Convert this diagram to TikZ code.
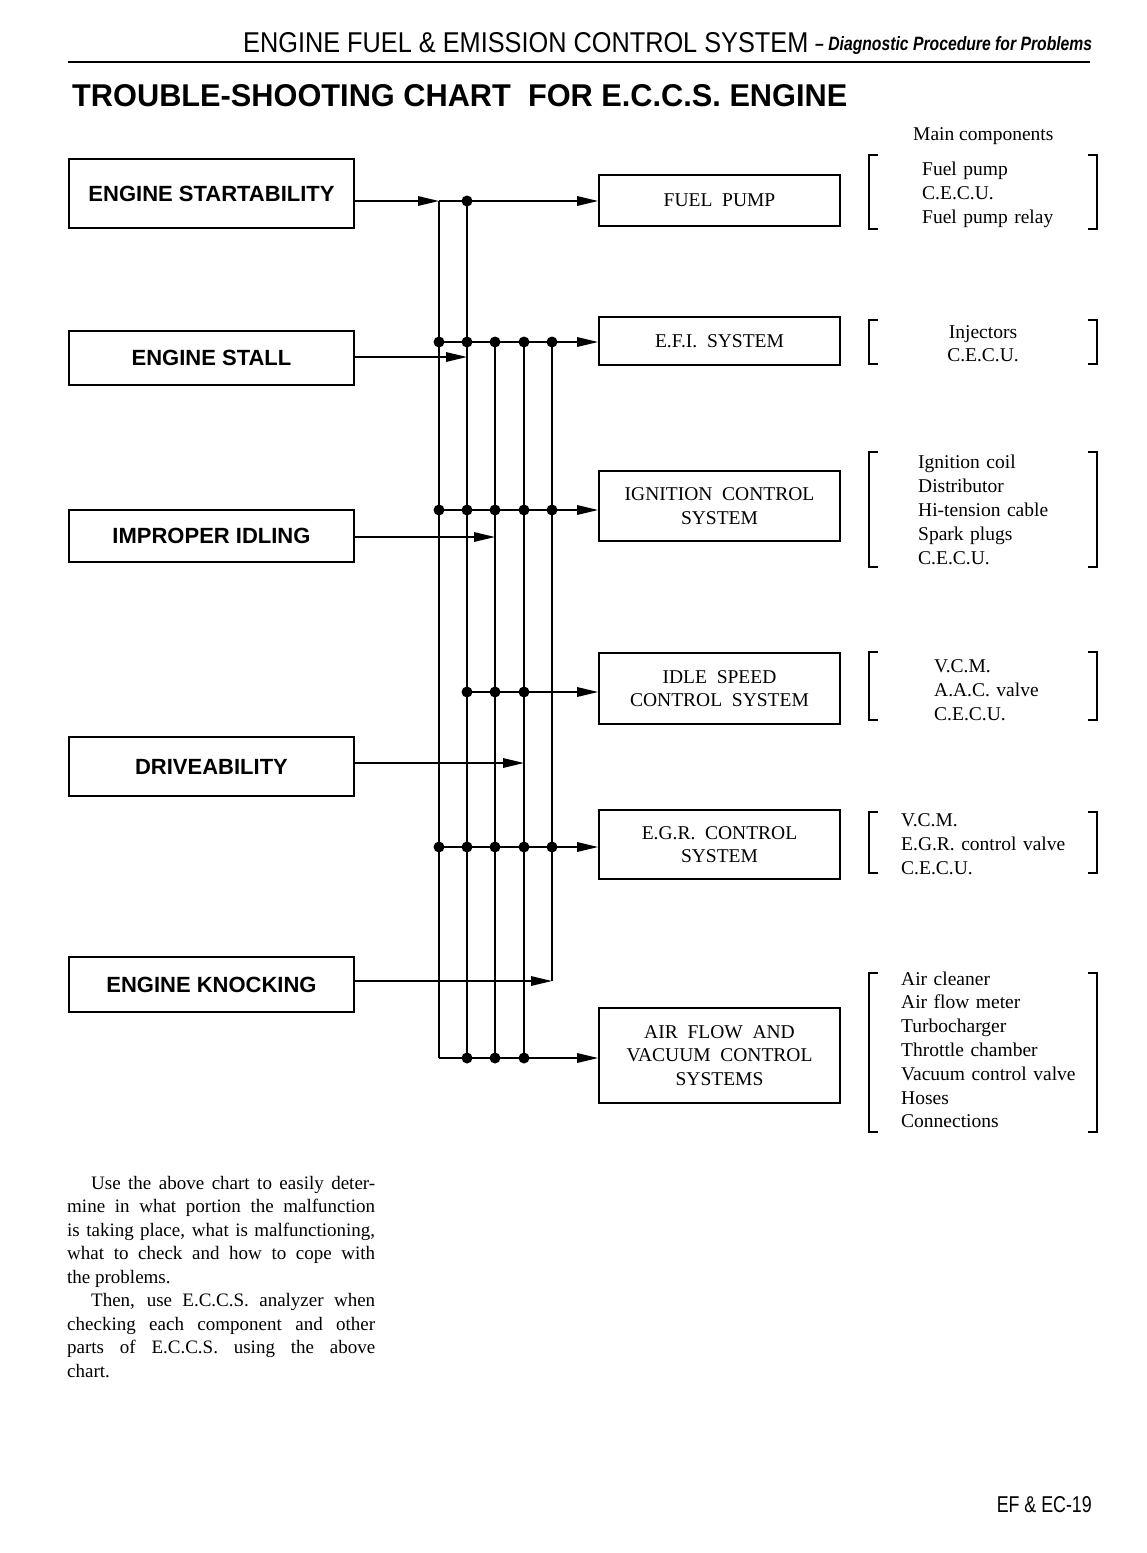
\documentclass[tikz,border=0pt]{standalone}
\usepackage{fontspec}
\usepackage{graphicx}
\setmainfont{Liberation Serif}
\setsansfont{Liberation Sans}
\usetikzlibrary{arrows.meta}
\newcommand\mybrackets[2]{%
  \draw[brk] (878,#1) -- (869,#1) -- (869,#2) -- (878,#2);
  \draw[brk] (1088,#1) -- (1097,#1) -- (1097,#2) -- (1088,#2);}
\begin{document}
\begin{tikzpicture}[x=1pt,y=-1pt,
  sympt/.style={draw, line width=1.7pt, minimum width=285pt, minimum height=#1,
    inner sep=0pt, font=\sffamily\bfseries\fontsize{22}{26}\selectfont},
  sysbox/.style={draw, line width=1.7pt, minimum width=241pt, minimum height=#1,
    inner sep=0pt, align=center, font=\fontsize{19.5}{23.5}\selectfont},
  conn/.style={line width=1.6pt},
  arr/.style={-{Triangle[length=21pt,width=9.5pt]}},
  jdot/.style={circle, fill, inner sep=0pt, minimum size=11pt},
  complist/.style={anchor=base west, inner sep=0pt, text width=190pt, align=left,
    font=\fontsize{19.5}{24}\selectfont},
  brk/.style={line width=1.3pt},
  plain/.style={inner sep=0pt}]
\useasboundingbox (0,0) rectangle (1147,1553);

% header
\node[plain, anchor=base west] (hdr) at (243,52)
  {\resizebox{565pt}{20pt}{\sffamily ENGINE FUEL \& EMISSION CONTROL SYSTEM}};
\node[plain, anchor=base west] (hdrsub) at (815,50)
  {\resizebox{277pt}{14pt}{\sffamily\bfseries\itshape -- Diagnostic Procedure for Problems}};
\draw[line width=2.5pt] (68,62) -- (1090,62);
\node[plain, anchor=base west] (title) at (72,106)
  {\resizebox{775pt}{22pt}{\sffamily\bfseries TROUBLE-SHOOTING CHART\ \ FOR E.C.C.S. ENGINE}};

% symptom boxes
\node[sympt=69pt]  (start)  at (211.5,193.5) {ENGINE STARTABILITY};
\node[sympt=54pt]  (stall)  at (211.5,358)   {ENGINE STALL};
\node[sympt=52pt]  (idling) at (211.5,536)   {IMPROPER IDLING};
\node[sympt=59pt]  (drive)  at (211.5,766.5) {DRIVEABILITY};
\node[sympt=55pt]  (knock)  at (211.5,984.5) {ENGINE KNOCKING};

% system boxes
\node[sysbox=51pt] (fp)  at (719.5,200.5)  {FUEL\ \ PUMP};
\node[sysbox=48pt] (efi) at (719.5,341)    {E.F.I.\ \ SYSTEM};
\node[sysbox=70pt] (ign) at (719.5,506)    {IGNITION\ \ CONTROL\\SYSTEM};
\node[sysbox=71pt] (isc) at (719.5,688.5)  {IDLE\ \ SPEED\\CONTROL\ \ SYSTEM};
\node[sysbox=69pt] (egr) at (719.5,844.5)  {E.G.R.\ \ CONTROL\\SYSTEM};
\node[sysbox=95pt] (air) at (719.5,1055.5) {AIR\ \ FLOW\ \ AND\\VACUUM\ \ CONTROL\\SYSTEMS};

% bus coordinates
\coordinate (in1) at (439,201);
\coordinate (in2) at (467,357);
\coordinate (in3) at (495,537);
\coordinate (in4) at (524,763);
\coordinate (in5) at (552,981);
\coordinate (rfp)  at (439,201);
\coordinate (refi) at (439,342);
\coordinate (rign) at (439,510);
\coordinate (risc) at (467,692);
\coordinate (regr) at (439,847);
\coordinate (rair) at (439,1058);

% vertical bus lines
\draw[conn] (in1) -- (439,1058);
\draw[conn] (467,201) -- (467,1058);
\draw[conn] (495,342) -- (495,1058);
\draw[conn] (524,342) -- (524,1058);
\draw[conn] (552,342) -- (in5);

% symptom inputs
\draw[conn,arr] (start.east |- in1) -- (in1);
\draw[conn,arr] (stall.east |- in2) -- (in2);
\draw[conn,arr] (idling.east |- in3) -- (in3);
\draw[conn,arr] (drive.east |- in4) -- (in4);
\draw[conn,arr] (knock.east |- in5) -- (in5);

% system outputs
\draw[conn,arr] (rfp) -- (fp.west |- rfp);
\draw[conn,arr] (refi) -- (efi.west |- refi);
\draw[conn,arr] (rign) -- (ign.west |- rign);
\draw[conn,arr] (risc) -- (isc.west |- risc);
\draw[conn,arr] (regr) -- (egr.west |- regr);
\draw[conn,arr] (rair) -- (air.west |- rair);

% junction dots
\node[jdot] (dfp2) at (467,201) {};
\foreach \x [count=\i] in {439,467,495,524,552} {
  \node[jdot] (defi\i) at (\x,342) {};
  \node[jdot] (dign\i) at (\x,510) {};
  \node[jdot] (degr\i) at (\x,847) {};
}
\foreach \x [count=\i] in {467,495,524} {
  \node[jdot] (disc\i) at (\x,692) {};
  \node[jdot] (dair\i) at (\x,1058) {};
}

% main components
\node[plain, anchor=base west] (mainc) at (913,140)
  {\fontsize{19.5}{24}\selectfont Main components};

\mybrackets{155}{229}
\node[complist] (l1) at (922,175) {Fuel pump\\C.E.C.U.\\Fuel pump relay};

\mybrackets{320}{364}
\node[plain, anchor=base, text width=150pt, align=center,
  font=\fontsize{19.5}{23}\selectfont] (l2) at (983,338) {Injectors\\C.E.C.U.};

\mybrackets{452}{567}
\node[complist] (l3) at (918,468)
  {Ignition coil\\Distributor\\Hi-tension cable\\Spark plugs\\C.E.C.U.};

\mybrackets{652}{720}
\node[complist] (l4) at (934,672) {V.C.M.\\A.A.C. valve\\C.E.C.U.};

\mybrackets{812}{873}
\node[complist] (l5) at (901,826) {V.C.M.\\E.G.R. control valve\\C.E.C.U.};

\mybrackets{973}{1132}
\node[complist, font=\fontsize{19.5}{23.8}\selectfont] (l6) at (901,985)
  {Air cleaner\\Air flow meter\\Turbocharger\\Throttle chamber\\Vacuum control valve\\Hoses\\Connections};

% body text
\node[plain, anchor=base west, text width=308pt, align=justify,
  font=\fontsize{19}{23.5}\selectfont] (body) at (67,1189)
  {\hspace*{24pt}Use the above chart to easily deter-\linebreak
   mine in what portion the malfunction\linebreak
   is taking place, what is malfunctioning,\linebreak
   what to check and how to cope with\linebreak
   the problems.\par
   \hspace*{24pt}Then, use E.C.C.S. analyzer when\linebreak
   checking each component and other\linebreak
   parts of E.C.C.S. using the above\linebreak
   chart.};

% page number
\node[plain, anchor=base east] (pgno) at (1092,1512)
  {\resizebox{95pt}{16pt}{\sffamily EF \& EC-19}};
\end{tikzpicture}
\end{document}
